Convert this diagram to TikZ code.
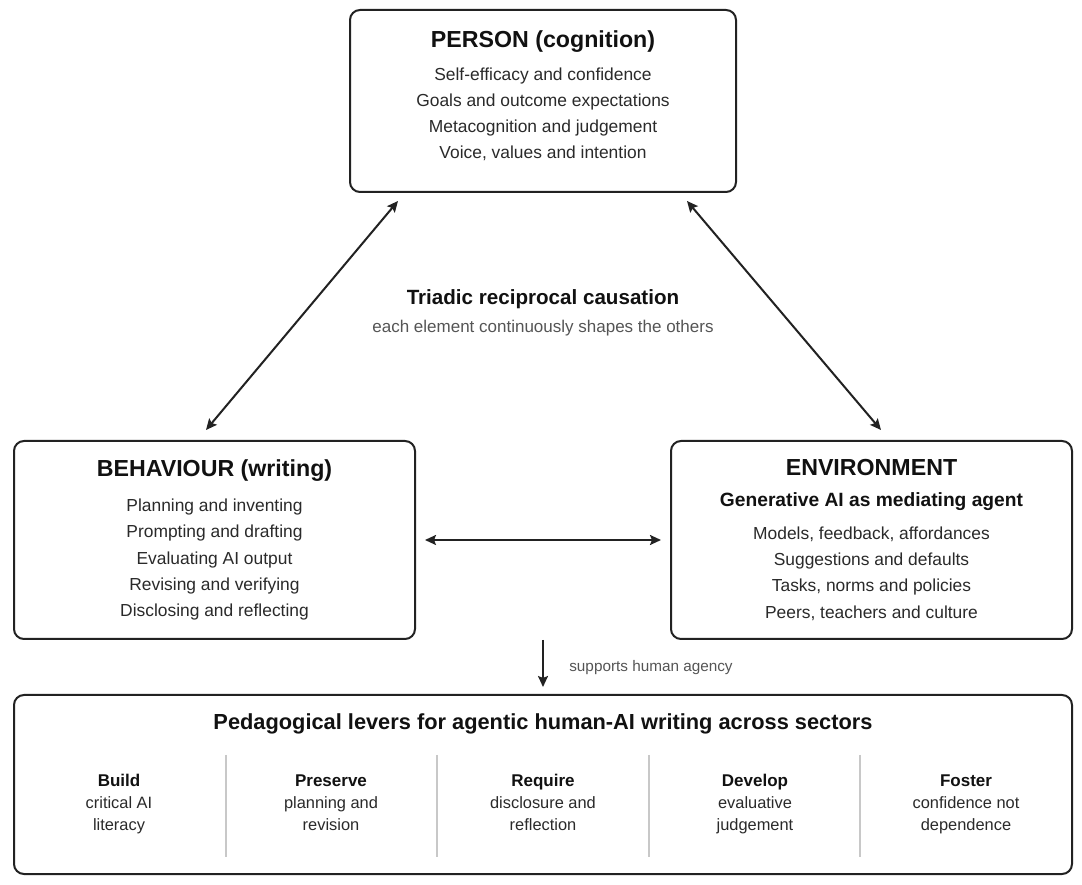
\documentclass[tikz,border=0pt]{standalone}
\usepackage{fontspec}
\setmainfont{Liberation Sans}
\usetikzlibrary{arrows.meta,positioning,calc}
\definecolor{InkDark}{HTML}{222222}
\definecolor{InkText}{HTML}{2A2A2A}
\definecolor{InkTitle}{HTML}{111111}
\definecolor{Muted}{HTML}{555555}
\definecolor{RuleGray}{HTML}{C8C8C8}
\newcommand{\paneltitle}[1]{{\fontsize{23.2}{27}\selectfont\bfseries\color{InkTitle}#1}}
\tikzset{
  panel/.style={rounded corners=10pt, draw=InkDark, line width=2pt, fill=white, align=center, text=InkText, font=\fontsize{17.4}{26.3}\selectfont},
  lever/.style={align=center, text=InkText, font=\fontsize{16.4}{22.5}\selectfont},
  biarrow/.style={{Stealth[length=11pt,width=10pt,inset=2pt]}-{Stealth[length=11pt,width=10pt,inset=2pt]}, line width=2pt, draw=InkDark},
  arrow/.style={-{Stealth[length=11pt,width=10pt,inset=2pt]}, line width=2pt, draw=InkDark},
  divider/.style={draw=RuleGray, line width=1.4pt}
}

\begin{document}
\begin{tikzpicture}[x=1pt, y=1pt]
    \useasboundingbox[fill=white] (0,0) rectangle (1082,884);

    \node[panel, minimum width=386pt, minimum height=182pt, text depth=12pt] (person) at (543,783)
      {\paneltitle{PERSON (cognition)}\\[6pt]
       Self-efficacy and confidence\\ Goals and outcome expectations\\
       Metacognition and judgement\\ Voice, values and intention};
    \node[panel, minimum width=401pt, minimum height=198pt] (behaviour) at (214.5,344)
      {\paneltitle{BEHAVIOUR (writing)}\\[9pt]
       Planning and inventing\\ Prompting and drafting\\ Evaluating AI output\\
       Revising and verifying\\ Disclosing and reflecting};
    \node[panel, minimum width=401pt, minimum height=198pt] (environment) at (871.5,344)
      {\paneltitle{ENVIRONMENT}\\[4pt]
       {\fontsize{19.2}{22}\selectfont\bfseries\color{InkTitle}Generative AI as mediating agent}\\[7pt]
       Models, feedback, affordances\\ Suggestions and defaults\\
       Tasks, norms and policies\\ Peers, teachers and culture};
    \node[panel, minimum width=1058pt, minimum height=179pt] (levers) at (543,99.5) {};

    % centre note
    \node[font=\fontsize{20.6}{24}\selectfont\bfseries, text=InkTitle] (triad) at (543,585) {Triadic reciprocal causation};
    \node[font=\fontsize{17}{20}\selectfont, text=Muted] (triadnote) at (543,556) {each element continuously shapes the others};

    % reciprocal links
    \draw[biarrow] ([xshift=49pt,yshift=-8pt]person.south west) -- ([xshift=-8.5pt,yshift=10pt]behaviour.north);
    \draw[biarrow] ([xshift=-50pt,yshift=-8pt]person.south east) -- ([xshift=9.5pt,yshift=10pt]environment.north);
    \draw[biarrow, shorten <=9pt, shorten >=9pt] (behaviour) -- (environment);

    \coordinate (agency) at (543,244);
    \draw[arrow] (agency) -- node[right=22pt, yshift=-4pt, font=\fontsize{15.3}{18}\selectfont, text=Muted]{supports human agency} ([yshift=7pt]levers.north);

    % levers
    \node[font=\fontsize{21.8}{26}\selectfont\bfseries, text=InkTitle] (leverstitle) at ([yshift=-30pt]levers.north)
      {Pedagogical levers for agentic human-AI writing across sectors};
    \foreach \x/\head/\lineA/\lineB [count=\i] in {
        119/Build/critical AI/literacy,
        331/Preserve/planning and/revision,
        543/Require/disclosure and/reflection,
        755/Develop/evaluative/judgement,
        966/Foster/confidence not/dependence}
      \node[lever] (lever\i) at (\x,80) {\strut{\fontsize{17}{22.5}\selectfont\bfseries\color{InkTitle}\head}\\ \lineA\\ \lineB\strut};
    \foreach \x in {226,437,649,860}
      \draw[divider] (\x,129) -- (\x,27);
  \end{tikzpicture}
\end{document}
